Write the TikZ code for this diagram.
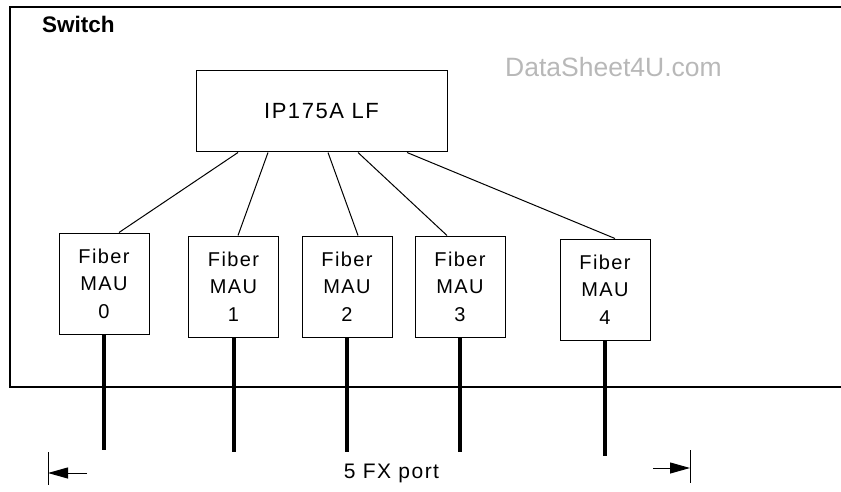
\documentclass[tikz,border=0pt]{standalone}
\usepackage{fontspec}
\setmainfont{Liberation Sans}
\newfontfamily\spaced[LetterSpace=7]{Liberation Sans}
\usetikzlibrary{arrows.meta}

\begin{document}
\begin{tikzpicture}[x=1pt,y=-1pt,
    chip/.style={draw,line width=1pt,minimum width=251pt,minimum height=81pt,
      inner sep=0pt,font=\spaced\fontsize{22}{26}\selectfont},
    mau/.style={draw,line width=1pt,minimum width=90pt,minimum height=101pt,
      inner sep=0pt,align=center,font=\spaced\fontsize{20}{27.5}\selectfont},
    link/.style={line width=1pt},
    fiber/.style={line width=4pt},
    dimarrow/.style={line width=1pt,-{Triangle[length=20pt,width=11pt]}}]
      \useasboundingbox (0,0) rectangle (841,492);
      % switch enclosure
      \draw[line width=1.3pt] (841,7) -- (10,7) -- (10,387) -- (841,387);
      \node[anchor=base west,inner sep=0pt,font=\bfseries\fontsize{22.5}{26}\selectfont] (sw) at (42,33) {Switch};
      \node[anchor=base,text=black!28,font=\fontsize{26.5}{30}\selectfont] (mark) at (613.5,77) {DataSheet4U.com};
      % switch chip
      \node[chip] (ip) at (321.5,111.5) {IP175A LF};
      % fiber MAUs
      \node[mau] (mau0) at (104,283.5) {Fiber\\MAU\\0};
      \node[mau] (mau1) at (233.5,286.5) {Fiber\\MAU\\1};
      \node[mau] (mau2) at (347,286.5) {Fiber\\MAU\\2};
      \node[mau] (mau3) at (460,286.5) {Fiber\\MAU\\3};
      \node[mau] (mau4) at (605,289.5) {Fiber\\MAU\\4};
      % chip to MAU links
      \draw[link] ([xshift=-83.5pt]ip.south) -- ([xshift=15pt]mau0.north);
      \draw[link] ([xshift=-53.5pt]ip.south) -- ([xshift=4.5pt]mau1.north);
      \draw[link] ([xshift=6.5pt]ip.south) -- ([xshift=11pt]mau2.north);
      \draw[link] ([xshift=36.5pt]ip.south) -- ([xshift=-13pt]mau3.north);
      \draw[link] ([xshift=85.5pt]ip.south) -- ([xshift=10pt]mau4.north);
      % fiber ports
      \coordinate (end0) at (104,450);
      \coordinate (end1) at (233.5,452);
      \coordinate (end2) at (347,452);
      \coordinate (end3) at (460,452);
      \coordinate (end4) at (605,456);
      \draw[fiber] (mau0.south) -- (end0);
      \draw[fiber] (mau1.south) -- (end1);
      \draw[fiber] (mau2.south) -- (end2);
      \draw[fiber] (mau3.south) -- (end3);
      \draw[fiber] (mau4.south) -- (end4);
      % port span
      \node[anchor=base,font=\spaced\fontsize{21}{25}\selectfont] (ports) at (391.5,478) {5 FX port};
      \coordinate (lbar) at (48,452);
      \coordinate (lbarend) at (48,485);
      \coordinate (ltail) at (87,473);
      \coordinate (lhead) at (48,473);
      \coordinate (rbar) at (690,450);
      \coordinate (rbarend) at (690,483);
      \coordinate (rtail) at (653,468);
      \coordinate (rhead) at (690,468);
      \draw[link] (lbar) -- (lbarend);
      \draw[link] (rbar) -- (rbarend);
      \draw[dimarrow] (ltail) -- (lhead);
      \draw[dimarrow] (rtail) -- (rhead);
    \end{tikzpicture}
\end{document}
